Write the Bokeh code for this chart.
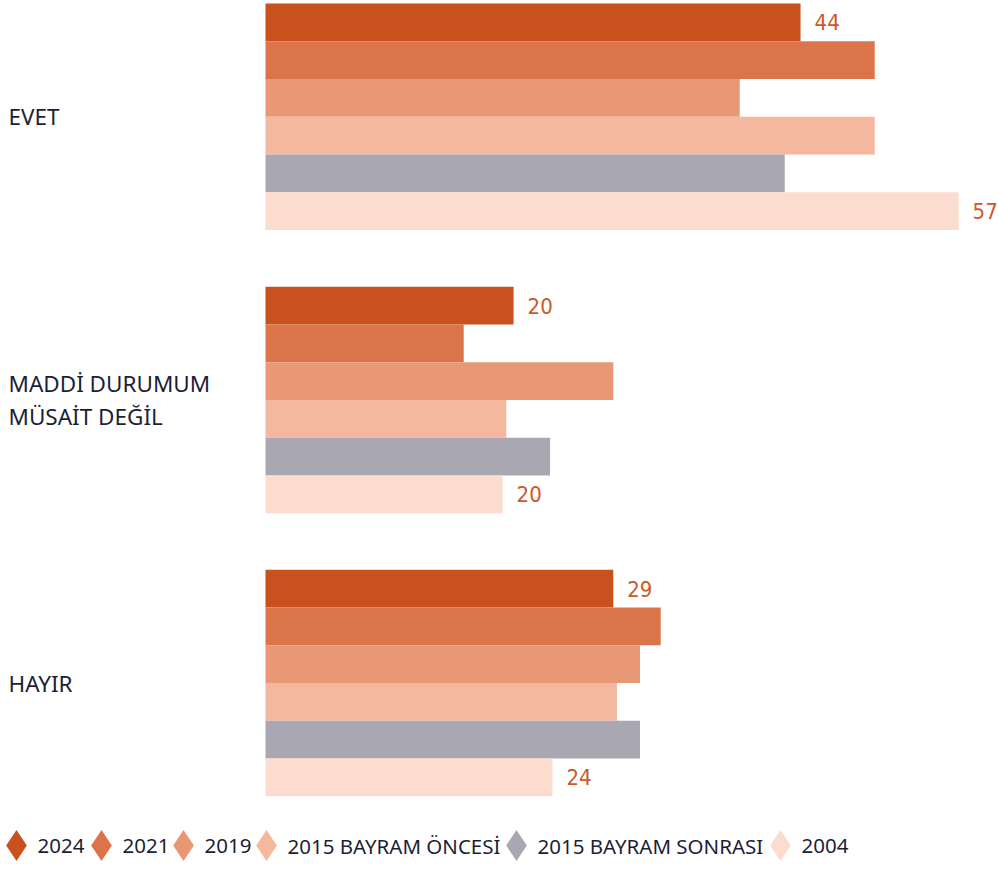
from bokeh.plotting import figure
from bokeh.models import ColumnDataSource, Range1d
from bokeh.core.properties import value
from bokeh.embed import file_html
from bokeh.resources import INLINE

# ---------------- data ----------------
categories = ["EVET", "MADDİ DURUMUM\nMÜSAİT DEĞİL", "HAYIR"]
series = ["2024", "2021", "2019", "2015 BAYRAM ÖNCESİ", "2015 BAYRAM SONRASI", "2004"]
v2024 = [44.0, 20.4, 28.6]
v2021 = [50.1, 16.3, 32.5]
v2019 = [39.0, 28.6, 30.8]
v2015_once = [50.1, 19.8, 28.9]
v2015_sonra = [42.7, 23.4, 30.8]
v2004 = [57.0, 19.5, 23.6]
all_values = [v2024, v2021, v2019, v2015_once, v2015_sonra, v2004]
labelled_series = [0, 5]  # 2024 and 2004 carry value labels

# ---------------- style / layout ----------------
colors = ["#C8511E", "#DC744A", "#E89874", "#F4B89E", "#A9A7B1", "#FDDCD0"]
label_color = "#CB5A28"
text_color = "#1B1F35"

W, H = 998, 866
PX_PER_UNIT = 12.16     # pixels per value unit
ZERO_PX = 265           # pixel position of the value 0
TOP_PX = 3              # pixel position of the first bar's top
BAR_PX = 37.75          # pixel height of one bar
GROUP_STEP = 7.5        # bars per group incl. gap
LEFT_PAD_PX = 8

x0 = -ZERO_PX / PX_PER_UNIT
p = figure(width=W, height=H, output_backend="svg", toolbar_location=None,
           x_range=Range1d(x0, x0 + W / PX_PER_UNIT),
           y_range=Range1d((H - TOP_PX) / BAR_PX, -TOP_PX / BAR_PX),
           x_axis_location=None, y_axis_location=None,
           min_border=0, outline_line_color=None,
           background_fill_color="white", border_fill_color="white")
p.grid.visible = False
p.extra_x_ranges = {"px": Range1d(0, W)}
p.extra_y_ranges = {"px": Range1d(H, 0)}

# bars
for i, (vals, col) in enumerate(zip(all_values, colors)):
    ys = [g * GROUP_STEP + i + 0.5 for g in range(len(categories))]
    src = ColumnDataSource(dict(y=ys, right=vals, left=[0] * len(vals)))
    p.hbar(y="y", left="left", right="right", height=1.0, source=src,
           fill_color=col, line_color=None)
    if i in labelled_series:
        lsrc = ColumnDataSource(dict(x=vals, y=ys, t=[str(round(v)) for v in vals]))
        p.text(x="x", y="y", text="t", source=lsrc, x_offset=14,
               text_baseline="middle", text_align="left",
               text_font=value("DejaVu Sans Condensed"),
               text_font_size="22px", text_color=label_color)

# category labels
csrc = ColumnDataSource(dict(x=[x0 + LEFT_PAD_PX / PX_PER_UNIT] * len(categories),
                             y=[g * GROUP_STEP + 3 for g in range(len(categories))],
                             t=categories))
p.text(x="x", y="y", text="t", source=csrc, text_baseline="middle",
       text_align="left", text_font=value("Noto Sans"), text_font_size="22.5px",
       text_color=text_color, text_line_height=1.05)

# legend (manual, diamond markers)
legend_x = [16, 101, 183, 266, 516, 780]
legend_y = 845
msrc = ColumnDataSource(dict(x=legend_x, y=[legend_y] * len(series), c=colors))
p.scatter(x="x", y="y", source=msrc, marker="diamond", size=31,
          fill_color="c", line_color=None, x_range_name="px", y_range_name="px")
tsrc = ColumnDataSource(dict(x=[lx + 21 for lx in legend_x], y=[legend_y] * len(series), t=series))
p.text(x="x", y="y", text="t", source=tsrc, x_range_name="px", y_range_name="px",
       text_baseline="middle", text_align="left", text_font=value("Noto Sans"),
       text_font_size="20.5px", text_color=text_color)

open("out.html", "w").write(file_html(p, INLINE))
